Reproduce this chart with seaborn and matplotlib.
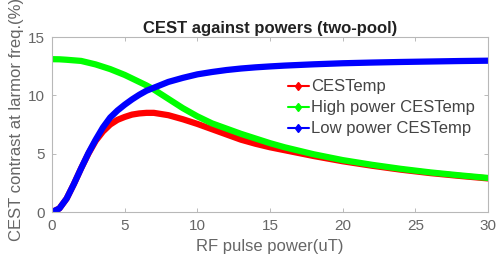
import numpy as np
import pandas as pd
import matplotlib
matplotlib.use("Agg")
import matplotlib.pyplot as plt
import seaborn as sns
from matplotlib.lines import Line2D

power = [0, 0.5, 1, 1.5, 2, 2.5, 3, 3.5, 4, 4.5, 5, 5.5, 6, 6.5, 7, 8, 9, 10, 11, 12,
         13, 14, 15, 16, 18, 20, 22, 24, 26, 28, 30]
low_power = [0, 0.3, 1.15, 2.4, 3.75, 5.05, 6.2, 7.25, 8.1, 8.7, 9.2, 9.65, 10.05,
             10.4, 10.65, 11.15, 11.5, 11.8, 12.0, 12.17, 12.3, 12.4, 12.48, 12.55,
             12.66, 12.75, 12.81, 12.86, 12.9, 12.94, 12.97]
high_power = [13.1, 13.09, 13.05, 13.0, 12.95, 12.8, 12.65, 12.45, 12.25, 12.0, 11.75,
              11.45, 11.15, 10.85, 10.5, 9.7, 8.9, 8.2, 7.6, 7.15, 6.7, 6.3, 5.9, 5.55,
              4.95, 4.45, 4.05, 3.7, 3.4, 3.15, 2.92]
cestemp = [0, 0.3, 1.15, 2.4, 3.75, 5.0, 6.1, 6.9, 7.5, 7.9, 8.15, 8.35, 8.45, 8.5,
           8.5, 8.3, 7.95, 7.55, 7.1, 6.65, 6.2, 5.85, 5.55, 5.3, 4.8, 4.35, 3.97,
           3.63, 3.34, 3.1, 2.88]

series_names = ["CESTemp", "High power CESTemp", "Low power CESTemp"]
colors = ["#ff0000", "#00ff00", "#0000ff"]
xticks = [0, 5, 10, 15, 20, 25, 30]
yticks = [0, 5, 10, 15]

df = pd.concat([
    pd.DataFrame({"power": power, "value": cestemp, "series": series_names[0]}),
    pd.DataFrame({"power": power, "value": high_power, "series": series_names[1]}),
    pd.DataFrame({"power": power, "value": low_power, "series": series_names[2]}),
])

sns.set_style("white")
plt.rcParams["font.family"] = ["Liberation Sans", "DejaVu Sans"]

fig = plt.figure(figsize=(4.96, 2.57), dpi=100)
ax = fig.add_axes([0.105, 0.175, 0.879, 0.681])

sns.lineplot(data=df, x="power", y="value", hue="series", palette=colors,
             hue_order=series_names, linewidth=4.5, ax=ax, legend=False,
             solid_capstyle="round", solid_joinstyle="round")

ax.set_xlim(0, 30)
ax.set_ylim(0, 15)
ax.set_xticks(xticks)
ax.set_yticks(yticks)
ax.tick_params(direction="in", length=3, width=0.6, colors="#b0b0b0",
               labelcolor="#666666", labelsize=11, top=True, right=True,
               bottom=True, left=True, pad=5)
for s in ax.spines.values():
    s.set_color("#b8b8b8")
    s.set_linewidth(0.8)

ax.set_title("CEST against powers (two-pool)", fontsize=12, fontweight="bold",
             color="#222222", pad=3)
ax.set_xlabel("RF pulse power(uT)", fontsize=12, color="#666666", labelpad=4)
ax.set_ylabel("CEST contrast at larmor freq.(%)", fontsize=12, color="#666666")
ax.yaxis.label.set_rotation_mode("anchor")
ax.yaxis.label.set_ha("left")
ax.yaxis.set_label_coords(-0.064, -0.167)

handles = [Line2D([0], [0], color=c, lw=1.5, marker="d", markersize=4.5,
                  markeredgewidth=1) for c in colors]
leg = ax.legend(handles, series_names, loc="upper left",
                bbox_to_anchor=(0.540, 0.758), frameon=False, fontsize=12,
                handlelength=1.3, handletextpad=0.1, labelspacing=0.36,
                borderaxespad=0, borderpad=0)
for t in leg.get_texts():
    t.set_color("#444444")

fig.savefig("out.png", dpi=100)
